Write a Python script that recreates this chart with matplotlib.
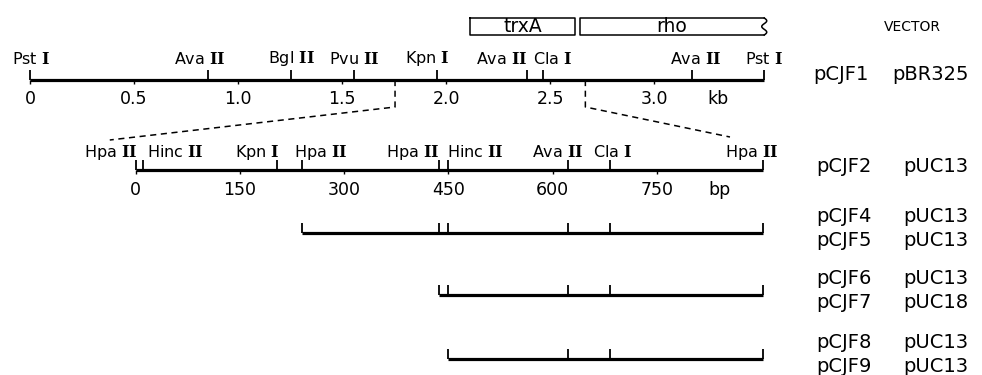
import numpy as np
import matplotlib.pyplot as plt
from matplotlib.transforms import offset_copy

plt.rcParams['font.family'] = ['DejaVu Sans']
plt.rcParams['mathtext.fontset'] = 'dejavuserif'

W, H = 982, 375

# ---- data -------------------------------------------------------------
# pCJF1 insert, positions in kb
kb_sites = [0.0, 0.856, 1.255, 1.558, 1.957, 2.39, 2.466, 3.183, 3.53]
kb_names = ['Pst', 'Ava', 'Bgl', 'Pvu', 'Kpn', 'Ava', 'Cla', 'Ava', 'Pst']
kb_nums = ['I', 'II', 'II', 'II', 'I', 'II', 'I', 'II', 'I']
kb_ticks = [0, 0.5, 1.0, 1.5, 2.0, 2.5, 3.0]
kb_ticklabels = ['0', '0.5', '1.0', '1.5', '2.0', '2.5', '3.0']

# genes above the map (kb)
genes = ['trxA', 'rho']
gene_start = [2.115, 2.644]
gene_end = [2.62, 3.53]

# subcloned region (kb) and where it lands on the bp map
zoom_kb = [1.755, 2.67]
zoom_bp = [-37, 855]

# pCJF2 insert, positions in bp
bp_sites = [0, 11, 203, 239, 436, 450, 622, 682, 902]
bp_names = ['Hpa', 'Hinc', 'Kpn', 'Hpa', 'Hpa', 'Hinc', 'Ava', 'Cla', 'Hpa']
bp_nums = ['II', 'II', 'I', 'II', 'II', 'II', 'II', 'I', 'II']
bp_ticks = [0, 150, 300, 450, 600, 750]

# deletion subclones (bp)
frag_start = [239, 436, 450]
frag_end = [902, 902, 902]
frag_sites = [[436, 450, 622, 682], [450, 622, 682], [622, 682]]

plasmids = ['pCJF1', 'pCJF2', 'pCJF4', 'pCJF5', 'pCJF6', 'pCJF7', 'pCJF8', 'pCJF9']
vectors = ['pBR325', 'pUC13', 'pUC13', 'pUC13', 'pUC13', 'pUC18', 'pUC13', 'pUC13']

# ---- layout -----------------------------------------------------------
KB0, KB_PX = 30.0, 208.0      # pixel of 0 kb, pixels per kb
BP0, BP_PX = 135.5, 0.6953    # pixel of 0 bp, pixels per bp
Y_KB, Y_BP = 80, 170
Y_FRAG = [233, 295, 359]
Y_ROWS = [74, 166, 216, 240, 279, 303, 342, 366]
kb_lab_dx = [1, -8, 0, 0, -10, -25, 10, 4, 0]
bp_lab_dx = [-25, 32, -19, 19, -26, 27, -10, 3, -11]

fig = plt.figure(figsize=(W / 100, H / 100), dpi=100)

ax_kb = fig.add_axes([0, 0, 1, 1])
ax_kb.set_xlim(-KB0 / KB_PX, (W - KB0) / KB_PX)
ax_kb.set_ylim(H, 0)
ax_kb.axis('off')

ax_bp = fig.add_axes([0, 0, 1, 1])
ax_bp.set_xlim(-BP0 / BP_PX, (W - BP0) / BP_PX)
ax_bp.set_ylim(H, 0)
ax_bp.patch.set_alpha(0)
ax_bp.axis('off')

ax_px = fig.add_axes([0, 0, 1, 1])
ax_px.set_xlim(0, W)
ax_px.set_ylim(H, 0)
ax_px.patch.set_alpha(0)
ax_px.axis('off')

LW_MAP, LW_TICK = 2.3, 1.3
FS_SITE, FS_NUM = 11.5, 12.5


def site_labels(ax, sites, names, nums, dxs, y):
    for x, n, r, dx in zip(sites, names, nums, dxs):
        tr = offset_copy(ax.transData, fig=fig, x=dx, y=0, units='dots')
        ax.text(x, y, n + r' $\mathbf{' + r + '}$', transform=tr,
                ha='center', va='center', fontsize=FS_SITE)


# ---- kb map -----------------------------------------------------------
ax_kb.plot([kb_sites[0], kb_sites[-1]], [Y_KB, Y_KB], color='k', lw=LW_MAP,
           solid_capstyle='butt')
ax_kb.vlines(kb_sites, Y_KB - 10, Y_KB, color='k', lw=LW_TICK)
ax_kb.vlines(kb_ticks, Y_KB, Y_KB + 4, color='k', lw=1.0)
site_labels(ax_kb, kb_sites, kb_names, kb_nums, kb_lab_dx, 59)
for t, lab in zip(kb_ticks, kb_ticklabels):
    ax_kb.text(t, 99, lab, ha='center', va='center', fontsize=FS_NUM)
ax_kb.text(3.31, 99, 'kb', ha='center', va='center', fontsize=FS_NUM)

# genes
for g, s, e in zip(genes, gene_start, gene_end):
    if g == 'rho':
        yy = np.linspace(18, 35, 40)
        xx = e + 0.012 * np.sin((yy - 18) / 17 * 3 * np.pi)
        ax_kb.plot([e, s, s, e], [18, 18, 35, 35], color='k', lw=1.1)
        ax_kb.plot(xx, yy, color='k', lw=1.1)
    else:
        ax_kb.plot([s, e, e, s, s], [18, 18, 35, 35, 18], color='k', lw=1.1)
    ax_kb.text((s + e) / 2, 26, g, ha='center', va='center', fontsize=13.5)

# dashed zoom lines
for zk, zb, yend in zip(zoom_kb, zoom_bp, [140, 137]):
    xb = ax_kb.transData.inverted().transform(
        ax_bp.transData.transform((zb, yend)))[0]
    ax_kb.plot([zk, zk, xb], [Y_KB, 107, yend], color='k', lw=1.1,
               dashes=(4, 3))

# ---- bp map -----------------------------------------------------------
ax_bp.plot([bp_sites[0], bp_sites[-1]], [Y_BP, Y_BP], color='k', lw=LW_MAP,
           solid_capstyle='butt')
ax_bp.vlines(bp_sites, Y_BP - 10, Y_BP, color='k', lw=LW_TICK)
ax_bp.vlines(bp_ticks, Y_BP, Y_BP + 4, color='k', lw=1.0)
site_labels(ax_bp, bp_sites, bp_names, bp_nums, bp_lab_dx, 152)
for t in bp_ticks:
    ax_bp.text(t, 190, str(t), ha='center', va='center', fontsize=FS_NUM)
ax_bp.text(840, 190, 'bp', ha='center', va='center', fontsize=FS_NUM)

# subclones
for s, e, st, y in zip(frag_start, frag_end, frag_sites, Y_FRAG):
    ax_bp.plot([s, e], [y, y], color='k', lw=LW_MAP, solid_capstyle='butt')
    ax_bp.vlines([s] + st + [e], y - 10, y, color='k', lw=LW_TICK)

# ---- right-hand labels ------------------------------------------------
ax_px.text(912, 27, 'VECTOR', ha='center', va='center', fontsize=10)
for i, (p, v, y) in enumerate(zip(plasmids, vectors, Y_ROWS)):
    x1, x2 = (813, 892) if i == 0 else (816, 903)
    ax_px.text(x1, y, p, ha='left', va='center', fontsize=14)
    ax_px.text(x2, y, v, ha='left', va='center', fontsize=14)

fig.savefig('out.png', dpi=100, facecolor='white')
